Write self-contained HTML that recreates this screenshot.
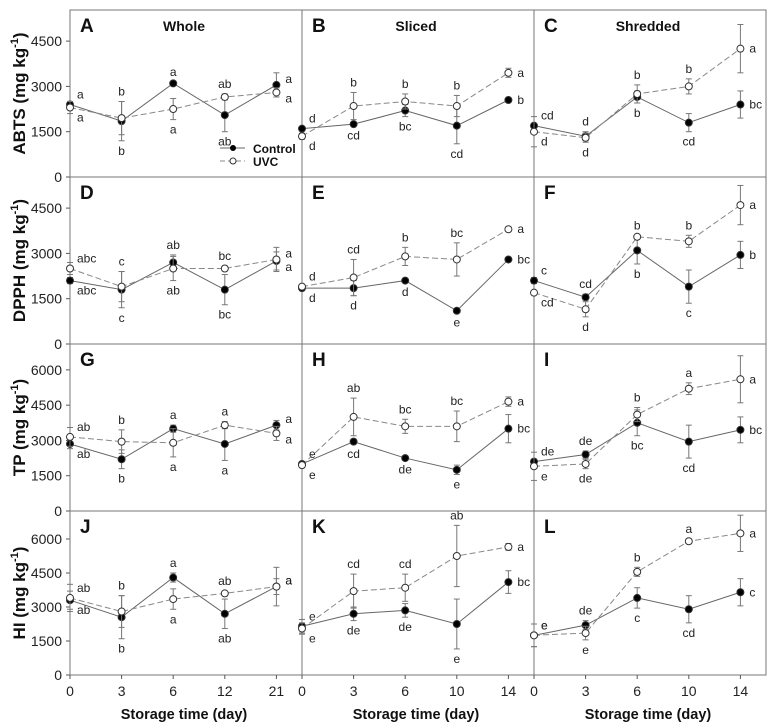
<!DOCTYPE html>
<html><head><meta charset="utf-8"><style>
body{margin:0;background:#fff;}
svg{display:block;font-family:"Liberation Sans",Arial,sans-serif;}
</style></head><body>
<svg id="chart" width="774" height="728" viewBox="0 0 774 728"></svg>
<script>
// data
const daysWhole = ["0","3","6","12","21"];
const daysCut = ["0","3","6","10","14"];
const panelLetters = ["A","B","C","D","E","F","G","H","I","J","K","L"];
const colTitles = ["Whole","Sliced","Shredded"];
const rowTitles = ["ABTS","DPPH","TP","HI"];
const ticksSmall = [0,1500,3000,4500];
const ticksLarge = [0,1500,3000,4500,6000];
const ctrlA=[2400,1850,3100,2050,3050], uvcA=[2300,1950,2250,2650,2800];
const ctrlAe=[100,650,50,550,400], uvcAe=[200,550,350,100,150];
const ctrlB=[1600,1750,2200,1700,2550], uvcB=[1350,2350,2500,2350,3450];
const ctrlBe=[50,50,200,600,50], uvcBe=[100,450,250,350,150];
const ctrlC=[1700,1350,2650,1800,2400], uvcC=[1500,1300,2750,3000,4250];
const ctrlCe=[50,150,200,300,450], uvcCe=[500,150,300,250,800];
const ctrlD=[2100,1800,2700,1800,2750], uvcD=[2500,1900,2500,2500,2800];
const ctrlDe=[100,600,250,500,300], uvcDe=[200,500,400,80,400];
const ctrlE=[1850,1850,2100,1100,2800], uvcE=[1900,2200,2900,2800,3800];
const ctrlEe=[50,250,50,50,50], uvcEe=[50,600,300,550,50];
const ctrlF=[2100,1550,3100,1900,2950], uvcF=[1700,1150,3550,3400,4600];
const ctrlFe=[100,100,450,550,450], uvcFe=[50,250,50,200,650];
const ctrlG=[2850,2200,3500,2850,3650], uvcG=[3150,2950,2900,3650,3300];
const ctrlGe=[200,400,150,700,200], uvcGe=[400,500,600,150,300];
const ctrlH=[2000,2950,2250,1750,3500], uvcH=[1950,4000,3600,3600,4650];
const ctrlHe=[100,100,50,200,600], uvcHe=[100,800,300,650,200];
const ctrlI=[2100,2400,3750,2950,3450], uvcI=[1900,2000,4100,5200,5600];
const ctrlIe=[100,150,550,700,550], uvcIe=[600,200,300,250,1000];
const ctrlJ=[3300,2550,4300,2700,3900], uvcJ=[3400,2800,3350,3600,3900];
const ctrlJe=[400,950,200,650,850], uvcJe=[600,700,450,100,350];
const ctrlK=[2150,2700,2850,2250,4100], uvcK=[2050,3700,3850,5250,5650];
const ctrlKe=[300,300,300,1100,500], uvcKe=[250,750,600,1350,150];
const ctrlL=[1750,2200,3400,2900,3650], uvcL=[1750,1850,4550,5900,6250];
const ctrlLe=[500,200,450,600,600], uvcLe=[500,300,200,100,800];
const labCtrlA=["a","b","a","ab","a"], labUvcA=["a","b","a","ab","a"];
const labCtrlB=["d","cd","bc","cd","b"], labUvcB=["d","b","b","b","a"];
const labCtrlC=["cd","d","b","cd","bc"], labUvcC=["d","d","b","b","a"];
const labCtrlD=["abc","c","ab","bc","a"], labUvcD=["abc","c","ab","bc","a"];
const labCtrlE=["d","d","d","e","bc"], labUvcE=["d","cd","b","bc","a"];
const labCtrlF=["c","cd","b","c","b"], labUvcF=["cd","d","b","b","a"];
const labCtrlG=["ab","b","a","a","a"], labUvcG=["ab","b","a","a","a"];
const labCtrlH=["e","cd","de","e","bc"], labUvcH=["e","ab","bc","bc","a"];
const labCtrlI=["de","de","bc","cd","bc"], labUvcI=["e","de","b","a","a"];
const labCtrlJ=["ab","b","a","ab","a"], labUvcJ=["ab","b","a","ab","a"];
const labCtrlK=["e","de","de","e","bc"], labUvcK=["e","cd","cd","ab","a"];
const labCtrlL=["e","de","c","cd","c"], labUvcL=["e","e","b","a","a"];

const NS="http://www.w3.org/2000/svg";
const svg=document.getElementById('chart');
function mk(tag,attrs,parent,text){const e=document.createElementNS(NS,tag);for(const k in attrs)e.setAttribute(k,attrs[k]);if(text!==undefined)e.textContent=text;(parent||svg).appendChild(e);return e;}

const colX=[70,302,534], colW=232;
const rowTop=[10,177,344,511], rowBot=[177,344,511,675];
const rowMax=[5530,5530,7100,7235];
const ctrls=[ctrlA,ctrlB,ctrlC,ctrlD,ctrlE,ctrlF,ctrlG,ctrlH,ctrlI,ctrlJ,ctrlK,ctrlL];
const uvcs=[uvcA,uvcB,uvcC,uvcD,uvcE,uvcF,uvcG,uvcH,uvcI,uvcJ,uvcK,uvcL];
const ctrlEs=[ctrlAe,ctrlBe,ctrlCe,ctrlDe,ctrlEe,ctrlFe,ctrlGe,ctrlHe,ctrlIe,ctrlJe,ctrlKe,ctrlLe];
const uvcEs=[uvcAe,uvcBe,uvcCe,uvcDe,uvcEe,uvcFe,uvcGe,uvcHe,uvcIe,uvcJe,uvcKe,uvcLe];
const labC=[labCtrlA,labCtrlB,labCtrlC,labCtrlD,labCtrlE,labCtrlF,labCtrlG,labCtrlH,labCtrlI,labCtrlJ,labCtrlK,labCtrlL];
const labU=[labUvcA,labUvcB,labUvcC,labUvcD,labUvcE,labUvcF,labUvcG,labUvcH,labUvcI,labUvcJ,labUvcK,labUvcL];

for(let r=0;r<4;r++){
  const yS=v=>rowBot[r]-v/rowMax[r]*(rowBot[r]-rowTop[r]);
  // y ticks
  const ticks=r<2?ticksSmall:ticksLarge;
  ticks.forEach(t=>{
    const tl=mk('text',{x:62,y:yS(t)+5,'text-anchor':'end','font-size':14,fill:'#222'},svg,String(t));
    
    
    mk('line',{x1:66,x2:70,y1:yS(t),y2:yS(t),stroke:'#555'});
  });
  const yt=mk('text',{transform:`translate(25,${(rowTop[r]+rowBot[r])/2}) rotate(-90)`,'text-anchor':'middle','font-size':17,'font-weight':'bold',fill:'#111'},svg);
  
  
  yt.textContent=rowTitles[r]+' (mg kg';
  mk('tspan',{'font-size':11,dy:-7},yt,'-1');
  mk('tspan',{dy:7},yt,')');
  for(let c=0;c<3;c++){
    const i=r*3+c;
    const x0=colX[c];
    const cats=c===0?daysWhole:daysCut;
    const xS=k=>x0+k*51.6;
    const g=mk('g',{});
    
    
    mk('rect',{x:x0,y:rowTop[r],width:colW,height:rowBot[r]-rowTop[r],fill:'none',stroke:'#777','stroke-width':1},g);
    mk('text',{x:x0+10,y:rowTop[r]+22,'font-size':19,'font-weight':'bold',fill:'#111'},g,panelLetters[i]);
    if(r===0){const ct=mk('text',{x:x0+114,y:31,'text-anchor':'middle','font-size':14,'font-weight':'bold',fill:'#111'},g,colTitles[c]);
      }
    if(r===3){
      cats.forEach((d,k)=>{mk('line',{x1:xS(k),x2:xS(k),y1:675,y2:679,stroke:'#555'},g);
        const xl=mk('text',{x:xS(k),y:696,'text-anchor':'middle','font-size':14,fill:'#222'},g,d);
        });
      const xt=mk('text',{x:x0+114,y:719,'text-anchor':'middle','font-size':14.5,'font-weight':'bold',fill:'#111'},g,'Storage time (day)');
      
    }
    const series=[[ctrls[i],ctrlEs[i],labC[i],true],[uvcs[i],uvcEs[i],labU[i],false]];
    series.forEach(([vals,errs,labs,filled],si)=>{
      const other=si===0?uvcs[i]:ctrls[i];
      const pts=vals.map((v,k)=>xS(k)+','+yS(v)).join(' ');
      const pl=mk('polyline',{points:pts,fill:'none',stroke:filled?'#666':'#888','stroke-width':1,'stroke-dasharray':filled?'':'6,3'},g);
      
      
      vals.forEach((v,k)=>{
        const x=xS(k),e=errs[k];
        mk('line',{x1:x,x2:x,y1:yS(v+e),y2:yS(v-e),stroke:'#777'},g);
        mk('line',{x1:x-3,x2:x+3,y1:yS(v+e),y2:yS(v+e),stroke:'#777'},g);
        mk('line',{x1:x-3,x2:x+3,y1:yS(v-e),y2:yS(v-e),stroke:'#777'},g);
        const p=mk('circle',{cx:x,cy:yS(v),r:3.5,fill:filled?'#000':'#fff',stroke:'#333','stroke-width':1},g);
        
        
        const above=v>=other[k];
        let lx=x,ly,anchor='middle';
        if(k===4){lx=x+9;anchor='start';ly=yS(v)+(above?-2:10);if(Math.abs(v-other[k])>400)ly=yS(v)+4;}
        else if(k===0){lx=x+7;anchor='start';ly=above?yS(v)-6:yS(v)+14;}
        else ly=above?yS(v+e)-6:yS(v-e)+14;
        const lt=mk('text',{x:lx,y:ly,'text-anchor':anchor,'font-size':12,fill:'#222'},g,labs[k]);
        
        
      });
    });
  }
}
// legend
const lg=mk('g',{});


mk('line',{x1:220,x2:245,y1:148,y2:148,stroke:'#666'},lg);
mk('circle',{cx:233,cy:148,r:3,fill:'#000'},lg);
mk('text',{x:253,y:153,'font-size':12,'font-weight':'bold',fill:'#111'},lg,'Control');
mk('line',{x1:220,x2:245,y1:161,y2:161,stroke:'#888','stroke-dasharray':'5,3'},lg);
mk('circle',{cx:233,cy:161,r:3,fill:'#fff',stroke:'#333'},lg);
mk('text',{x:253,y:166,'font-size':12,'font-weight':'bold',fill:'#111'},lg,'UVC');
</script>
</body></html>
